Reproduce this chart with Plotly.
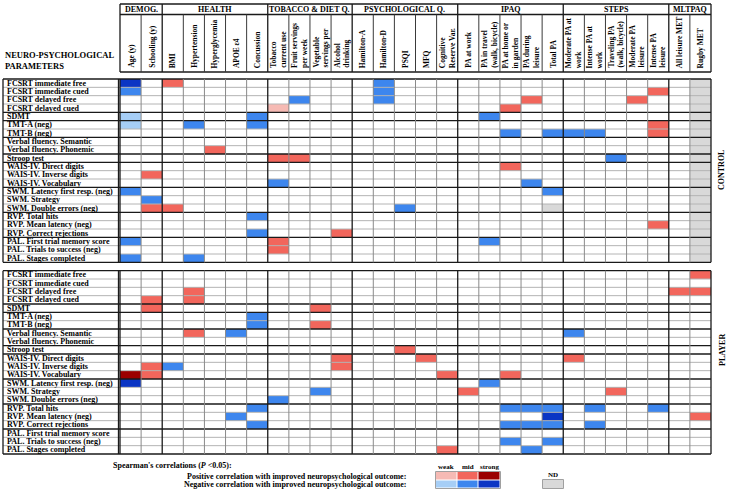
import plotly.graph_objects as go

# ---------------- data ----------------
columns = ["Age (y)", "Schooling (y)", "BMI", "Hypertension", "Hyperglycemia", "APOE ε4",
           "Concussion", "Tobacco current use", "Fruit servings per week", "Vegetable servings per",
           "Alcohol drinking", "Hamilton-A", "Hamilton-D", "PSQI", "MFQ", "Cognitive Reserve Var.",
           "PA at work", "PA in travel (walk, bicycle)", "PA at home or in garden", "PA during leisure",
           "Total PA", "Moderate PA at work", "Intense PA at work", "Traveling PA (walk, bicycle)",
           "Moderate PA leisure", "Intense PA leisure", "All leisure MET", "Rugby MET"]
column_labels = ["Age (y)", "Schooling (y)", "BMI", "Hypertension", "Hyperglycemia", "APOE ε4",
                 "Concussion", "Tobacco<br>current use", "Fruit servings<br>per week", "Vegetable<br>servings per",
                 "Alcohol<br>drinking", "Hamilton-A", "Hamilton-D", "PSQI", "MFQ", "Cognitive<br>Reserve Var.",
                 "PA at work", "PA in travel<br>(walk, bicycle)", "PA at home or<br>in garden", "PA during<br>leisure",
                 "Total PA", "Moderate PA at<br>work", "Intense PA at<br>work", "Traveling PA<br>(walk, bicycle)",
                 "Moderate PA<br>leisure", "Intense PA<br>leisure", "All leisure MET", "Rugby MET"]
column_groups = ["DEMOG.", "HEALTH", "TOBACCO & DIET Q.", "PSYCHOLOGICAL Q.", "IPAQ", "STEPS", "MLTPAQ"]
column_group_sizes = [2, 5, 4, 5, 5, 5, 2]

rows = ["FCSRT immediate free", "FCSRT immediate cued", "FCSRT delayed free", "FCSRT delayed cued",
        "SDMT", "TMT-A (neg)", "TMT-B (neg)", "Verbal fluency. Semantic", "Verbal fluency. Phonemic",
        "Stroop test", "WAIS-IV. Direct digits", "WAIS-IV. Inverse digits", "WAIS-IV. Vocabulary",
        "SWM. Latency first resp. (neg)", "SWM. Strategy", "SWM. Double errors (neg)",
        "RVP. Total hits", "RVP. Mean latency (neg)", "RVP. Correct rejections",
        "PAL. First trial memory score", "PAL. Trials to success (neg)", "PAL. Stages completed"]
row_group_sizes = [4, 1, 2, 2, 1, 3, 3, 3, 3]
sections = ["CONTROL", "PLAYER"]

# codes: +1/+2/+3 positive weak/mid/strong, -1/-2/-3 negative weak/mid/strong, 4 = ND
ND = 4
control_cells = [
    ("FCSRT immediate free", "Age (y)", -3), ("FCSRT immediate free", "BMI", 2),
    ("FCSRT immediate free", "Hamilton-D", -2),
    ("FCSRT immediate cued", "Age (y)", -2), ("FCSRT immediate cued", "Hamilton-D", -2),
    ("FCSRT immediate cued", "Intense PA leisure", 2),
    ("FCSRT delayed free", "Fruit servings per week", -2), ("FCSRT delayed free", "Hamilton-D", -2),
    ("FCSRT delayed free", "PA during leisure", 2), ("FCSRT delayed free", "Moderate PA leisure", 2),
    ("FCSRT delayed cued", "Tobacco current use", 1), ("FCSRT delayed cued", "PA at home or in garden", 2),
    ("SDMT", "Age (y)", -1), ("SDMT", "Concussion", -2), ("SDMT", "PA in travel (walk, bicycle)", -2),
    ("TMT-A (neg)", "Age (y)", -1), ("TMT-A (neg)", "Hypertension", -2), ("TMT-A (neg)", "Concussion", -2),
    ("TMT-A (neg)", "Intense PA leisure", 2),
    ("TMT-B (neg)", "PA at home or in garden", -2), ("TMT-B (neg)", "Total PA", -2),
    ("TMT-B (neg)", "Moderate PA at work", -2), ("TMT-B (neg)", "Intense PA at work", -2),
    ("TMT-B (neg)", "Intense PA leisure", 2),
    ("Verbal fluency. Phonemic", "Hyperglycemia", 2),
    ("Stroop test", "Tobacco current use", 2), ("Stroop test", "Fruit servings per week", 2),
    ("Stroop test", "Traveling PA (walk, bicycle)", -2),
    ("WAIS-IV. Direct digits", "PA at home or in garden", 2),
    ("WAIS-IV. Inverse digits", "Schooling (y)", 2),
    ("WAIS-IV. Vocabulary", "Tobacco current use", -2), ("WAIS-IV. Vocabulary", "PA during leisure", -2),
    ("SWM. Latency first resp. (neg)", "Age (y)", -2), ("SWM. Latency first resp. (neg)", "Total PA", -2),
    ("SWM. Strategy", "Schooling (y)", -2),
    ("SWM. Double errors (neg)", "Schooling (y)", 2), ("SWM. Double errors (neg)", "BMI", 2),
    ("SWM. Double errors (neg)", "PSQI", -2), ("SWM. Double errors (neg)", "Total PA", ND),
    ("RVP. Total hits", "Concussion", -2),
    ("RVP. Mean latency (neg)", "Intense PA leisure", 2),
    ("RVP. Correct rejections", "Concussion", -2), ("RVP. Correct rejections", "Alcohol drinking", 2),
    ("PAL. First trial memory score", "Age (y)", -2), ("PAL. First trial memory score", "Tobacco current use", 2),
    ("PAL. First trial memory score", "PA in travel (walk, bicycle)", -2),
    ("PAL. Trials to success (neg)", "Tobacco current use", 2),
    ("PAL. Stages completed", "Age (y)", -2), ("PAL. Stages completed", "Hypertension", -2),
]
control_nd_columns = ["Rugby MET"]

player_cells = [
    ("FCSRT immediate free", "Rugby MET", 2),
    ("FCSRT delayed free", "Hypertension", 2), ("FCSRT delayed free", "All leisure MET", 2),
    ("FCSRT delayed free", "Rugby MET", 2),
    ("FCSRT delayed cued", "Schooling (y)", 2), ("FCSRT delayed cued", "Hypertension", 2),
    ("SDMT", "Schooling (y)", 2), ("SDMT", "Vegetable servings per", 2),
    ("TMT-A (neg)", "Concussion", -2),
    ("TMT-B (neg)", "Concussion", -2), ("TMT-B (neg)", "Vegetable servings per", 2),
    ("Verbal fluency. Semantic", "Hypertension", 2), ("Verbal fluency. Semantic", "APOE ε4", -2),
    ("Verbal fluency. Semantic", "Moderate PA at work", -2),
    ("Stroop test", "PSQI", 2),
    ("WAIS-IV. Direct digits", "Alcohol drinking", 2), ("WAIS-IV. Direct digits", "MFQ", 2),
    ("WAIS-IV. Direct digits", "Moderate PA at work", 2),
    ("WAIS-IV. Inverse digits", "Schooling (y)", 2), ("WAIS-IV. Inverse digits", "BMI", -2),
    ("WAIS-IV. Inverse digits", "Alcohol drinking", 2),
    ("WAIS-IV. Vocabulary", "Age (y)", 3), ("WAIS-IV. Vocabulary", "Schooling (y)", 2),
    ("WAIS-IV. Vocabulary", "Cognitive Reserve Var.", 2), ("WAIS-IV. Vocabulary", "PA at home or in garden", 2),
    ("SWM. Latency first resp. (neg)", "Age (y)", -3),
    ("SWM. Latency first resp. (neg)", "PA in travel (walk, bicycle)", -2),
    ("SWM. Strategy", "Vegetable servings per", -2), ("SWM. Strategy", "PA at work", 2),
    ("SWM. Strategy", "Traveling PA (walk, bicycle)", 2),
    ("SWM. Double errors (neg)", "Tobacco current use", -2),
    ("RVP. Total hits", "Concussion", -2), ("RVP. Total hits", "PA at home or in garden", -2),
    ("RVP. Total hits", "PA during leisure", -2), ("RVP. Total hits", "Total PA", -2),
    ("RVP. Total hits", "Intense PA at work", -2), ("RVP. Total hits", "Intense PA leisure", -2),
    ("RVP. Mean latency (neg)", "APOE ε4", -2), ("RVP. Mean latency (neg)", "Total PA", -3),
    ("RVP. Mean latency (neg)", "Rugby MET", 2),
    ("RVP. Correct rejections", "Concussion", -2), ("RVP. Correct rejections", "PA at home or in garden", -2),
    ("RVP. Correct rejections", "PA during leisure", -2), ("RVP. Correct rejections", "Total PA", -2),
    ("RVP. Correct rejections", "Intense PA at work", -2),
    ("PAL. Trials to success (neg)", "PA at home or in garden", -2),
    ("PAL. Trials to success (neg)", "Total PA", -2),
    ("PAL. Stages completed", "Cognitive Reserve Var.", 2),
    ("PAL. Stages completed", "PA during leisure", -2),
]
player_nd_columns = []

legend_strengths = ["weak", "mid", "strong"]
legend_positive = [1, 2, 3]
legend_negative = [-1, -2, -3]
legend_nd = [ND]

# ---------------- colours ----------------
levels = [-3, -2, -1, 0, 1, 2, 3, 4]
level_colors = ["#0b35c4", "#3d86ee", "#a6cef6", "#ffffff", "#f6bab4", "#f2665c", "#9b0000", "#d9d9d9"]
colorscale = []
for i, c in enumerate(level_colors):
    colorscale.append([i / len(levels), c])
    colorscale.append([(i + 1) / len(levels), c])
ZMIN, ZMAX = -3.5, 4.5

# ---------------- geometry (pixels) ----------------
W, H = 732, 491
COL_L, COL_R = 120.0, 711.0
ROW_T, ROW_B = 79.0, 454.0
NCOL = len(columns)
NROW = len(rows)
GAP = 1
TOTAL_ROWS = 2 * NROW + GAP
COLW = (COL_R - COL_L) / NCOL
ROWH = (ROW_B - ROW_T) / TOTAL_ROWS
xlo = -0.5 - COL_L / COLW
xhi = xlo + W / COLW
ytop = -0.5 - ROW_T / ROWH
ybot = ytop + H / ROWH


def px2x(p):
    return xlo + p / COLW


def px2y(p):
    return ytop + p / ROWH


def pax(p):
    return p / W


def pay(p):
    return 1 - p / H


FONT = "Liberation Serif, Times New Roman, serif"

# ---------------- matrix ----------------
z = [[None] * NCOL for _ in range(TOTAL_ROWS)]
offsets = [0, NROW + GAP]
for off, cells, ndcols in [(offsets[0], control_cells, control_nd_columns),
                           (offsets[1], player_cells, player_nd_columns)]:
    for r in range(NROW):
        z[off + r] = [0] * NCOL
        for c in ndcols:
            z[off + r][columns.index(c)] = ND
    for rname, cname, v in cells:
        z[off + rows.index(rname)][columns.index(cname)] = v

fig = go.Figure()
fig.add_trace(go.Heatmap(z=z, x=list(range(NCOL)), y=list(range(TOTAL_ROWS)),
                         colorscale=colorscale, zmin=ZMIN, zmax=ZMAX, showscale=False,
                         hoverinfo="skip"))

shapes = []
annotations = []

thick_cols = [0]
acc = 0
for s in column_group_sizes:
    acc += s
    thick_cols.append(acc)
thick_rows = [0]
acc = 0
for s in row_group_sizes:
    acc += s
    thick_rows.append(acc)

LABEL_L, LABEL_R = 3.0, 118.5
for off in offsets:
    for k in range(NROW + 1):
        yy = off + k - 0.5
        thick = k in thick_rows
        shapes.append(dict(type="line", xref="x", yref="y", x0=px2x(LABEL_L), x1=NCOL - 0.5, y0=yy, y1=yy,
                           line=dict(color="#1a1a1a" if thick else "#b4b4b4", width=1.3 if thick else 1)))
    for j in range(NCOL + 1):
        xx = j - 0.5
        thick = j in thick_cols
        shapes.append(dict(type="line", xref="x", yref="y", x0=xx, x1=xx, y0=off - 0.5, y1=off + NROW - 0.5,
                           line=dict(color="#1a1a1a" if thick else "#8a8a8a", width=1.3 if thick else 1)))
    for p in (LABEL_L, LABEL_R):
        shapes.append(dict(type="line", xref="x", yref="y", x0=px2x(p), x1=px2x(p), y0=off - 0.5,
                           y1=off + NROW - 0.5, line=dict(color="#1a1a1a", width=1.3)))
    for r, name in enumerate(rows):
        annotations.append(dict(xref="paper", yref="y", x=pax(5), y=off + r, text="<b>" + name + "</b>",
                                showarrow=False, xanchor="left", yanchor="middle",
                                font=dict(family=FONT, size=8, color="black")))

# header box
HT, HM, HB = 4.0, 14.5, 72.0
for p in (HT, HM, HB):
    shapes.append(dict(type="line", xref="x", yref="y", x0=-0.5, x1=NCOL - 0.5, y0=px2y(p), y1=px2y(p),
                       line=dict(color="#1a1a1a", width=1.3)))
for j in range(NCOL + 1):
    xx = j - 0.5
    thick = j in thick_cols
    shapes.append(dict(type="line", xref="x", yref="y", x0=xx, x1=xx,
                       y0=px2y(HT if thick else HM), y1=px2y(HB),
                       line=dict(color="#1a1a1a" if thick else "#3a3a3a", width=1.3 if thick else 1)))
for g, name in enumerate(column_groups):
    x0 = thick_cols[g] - 0.5
    x1 = thick_cols[g + 1] - 0.5
    annotations.append(dict(xref="x", yref="y", x=(x0 + x1) / 2, y=px2y(9.5), text="<b>" + name + "</b>",
                            showarrow=False, xanchor="center", yanchor="middle",
                            font=dict(family=FONT, size=8, color="black")))
for j, lab in enumerate(column_labels):
    annotations.append(dict(xref="x", yref="y", x=j, y=px2y(70), text="<b>" + lab + "</b>",
                            showarrow=False, xanchor="center", yanchor="bottom", textangle=-90,
                            align="left", font=dict(family=FONT, size=7.5, color="black")))

annotations.append(dict(xref="paper", yref="paper", x=pax(3), y=pay(61), text="<b>NEURO-PSYCHOLOGICAL<br>PARAMETERS</b>",
                        showarrow=False, xanchor="left", yanchor="middle", align="left",
                        font=dict(family=FONT, size=8.5, color="black")))

for name, yc in zip(sections, [170, 350]):
    annotations.append(dict(xref="paper", yref="paper", x=pax(722), y=pay(yc), text="<b>" + name + "</b>",
                            showarrow=False, xanchor="center", yanchor="middle", textangle=-90,
                            font=dict(family=FONT, size=8, color="black")))

# ---------------- legend ----------------
fig.add_trace(go.Heatmap(z=[legend_negative, legend_positive], x=[0, 1, 2], y=[0, 1],
                         colorscale=colorscale, zmin=ZMIN, zmax=ZMAX, showscale=False,
                         hoverinfo="skip", xaxis="x2", yaxis="y2", xgap=1, ygap=1))
fig.add_trace(go.Heatmap(z=[legend_nd], x=[0], y=[0], colorscale=colorscale, zmin=ZMIN, zmax=ZMAX,
                         showscale=False, hoverinfo="skip", xaxis="x3", yaxis="y3"))
LX0, LX1, LY0, LY1 = 435.5, 500.5, 471.5, 488.5
NX0, NX1, NY0, NY1 = 542.5, 563.5, 479.5, 488.5
for a, b, c, d in [(LX0, LX1, LY0, LY1), (NX0, NX1, NY0, NY1)]:
    shapes.append(dict(type="rect", xref="paper", yref="paper", x0=pax(a), x1=pax(b), y0=pay(c), y1=pay(d),
                       line=dict(color="#a0a0a0", width=1)))
for i, s in enumerate(legend_strengths):
    annotations.append(dict(xref="x2", yref="paper", x=i, y=pay(467), text="<b>" + s + "</b>",
                            showarrow=False, xanchor="center", yanchor="middle",
                            font=dict(family=FONT, size=7, color="black")))
annotations.append(dict(xref="x3", yref="paper", x=0, y=pay(474.5), text="<b>ND</b>",
                        showarrow=False, xanchor="center", yanchor="middle",
                        font=dict(family=FONT, size=7, color="black")))
annotations.append(dict(xref="paper", yref="paper", x=pax(234), y=pay(465),
                        text="<b>Spearman's correlations (<i>P</i> &lt;0.05):</b>",
                        showarrow=False, xanchor="right", yanchor="middle",
                        font=dict(family=FONT, size=8, color="black")))
annotations.append(dict(xref="paper", yref="paper", x=pax(408), y=pay(476),
                        text="<b>Positive correlation with improved neuropsychological outcome:</b>",
                        showarrow=False, xanchor="right", yanchor="middle",
                        font=dict(family=FONT, size=8, color="black")))
annotations.append(dict(xref="paper", yref="paper", x=pax(408), y=pay(484.5),
                        text="<b>Negative correlation with improved neuropsychological outcome:</b>",
                        showarrow=False, xanchor="right", yanchor="middle",
                        font=dict(family=FONT, size=8, color="black")))

fig.update_layout(
    width=W, height=H, margin=dict(l=0, r=0, t=0, b=0),
    paper_bgcolor="white", plot_bgcolor="white",
    xaxis=dict(range=[xlo, xhi], visible=False, domain=[0, 1], fixedrange=True),
    yaxis=dict(range=[ybot, ytop], visible=False, domain=[0, 1], fixedrange=True),
    xaxis2=dict(domain=[pax(LX0), pax(LX1)], range=[-0.5, 2.5], visible=False, anchor="y2", fixedrange=True),
    yaxis2=dict(domain=[pay(LY1), pay(LY0)], range=[-0.5, 1.5], visible=False, anchor="x2", fixedrange=True),
    xaxis3=dict(domain=[pax(NX0), pax(NX1)], range=[-0.5, 0.5], visible=False, anchor="y3", fixedrange=True),
    yaxis3=dict(domain=[pay(NY1), pay(NY0)], range=[-0.5, 0.5], visible=False, anchor="x3", fixedrange=True),
    shapes=shapes, annotations=annotations, showlegend=False,
)
fig.write_html("out.html", config={"displayModeBar": False},
               post_script="document.body.style.margin='0px';document.body.style.overflow='hidden';")
